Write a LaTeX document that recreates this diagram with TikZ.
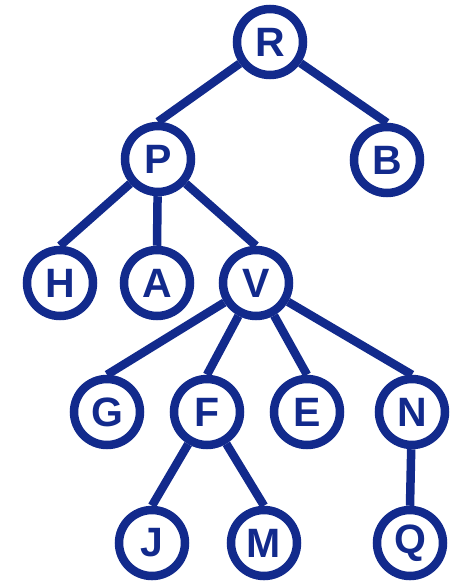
\documentclass[tikz,border=0pt]{standalone}
\usepackage{fontspec}
\setmainfont{Liberation Sans}
\usetikzlibrary{backgrounds}
\definecolor{treeblue}{RGB}{18,42,140}
\begin{document}
\begin{tikzpicture}[x=1pt,y=-1pt,
  vertex/.style={circle, draw=treeblue, line width=8.5pt, fill=white,
    minimum size=66pt, inner sep=0pt, text=treeblue,
    font=\fontsize{41}{41}\selectfont\bfseries},
  edge/.style={draw=treeblue, line width=8.5pt}]
\useasboundingbox (0,0) rectangle (455,581);
% nodes, level by level
\node[vertex] (R) at (270,42) {R};
\node[vertex] (P) at (158,159) {P};
\node[vertex] (B) at (387,160) {B};
\node[vertex] (H) at (60,283) {H};
\node[vertex] (A) at (157,283) {A};
\node[vertex] (V) at (256,283) {V};
\node[vertex] (G) at (107,412) {G};
\node[vertex] (F) at (207,412) {F};
\node[vertex] (E) at (307,412) {E};
\node[vertex] (N) at (412,412) {N};
\node[vertex] (J) at (152,543) {J};
\node[vertex] (M) at (264,543) {M};
\node[vertex] (Q) at (410,543) {Q};
% tree edges: from the parent's rim to the top of each child
\begin{scope}[on background layer]
\draw[edge] (R) -- (P.north);
\draw[edge] (R) -- (B.north);
\draw[edge] (P) -- (H.north);
\draw[edge] (P) -- (A.north);
\draw[edge] (P) -- (V.north);
\draw[edge] (V) -- (G.north);
\draw[edge] (V) -- (F.north);
\draw[edge] (V) -- (E.north);
\draw[edge] (V) -- (N.north);
\draw[edge] (F) -- (J.north);
\draw[edge] (F) -- (M.north);
\draw[edge] (N) -- (Q.north);
\end{scope}
\end{tikzpicture}
\end{document}
